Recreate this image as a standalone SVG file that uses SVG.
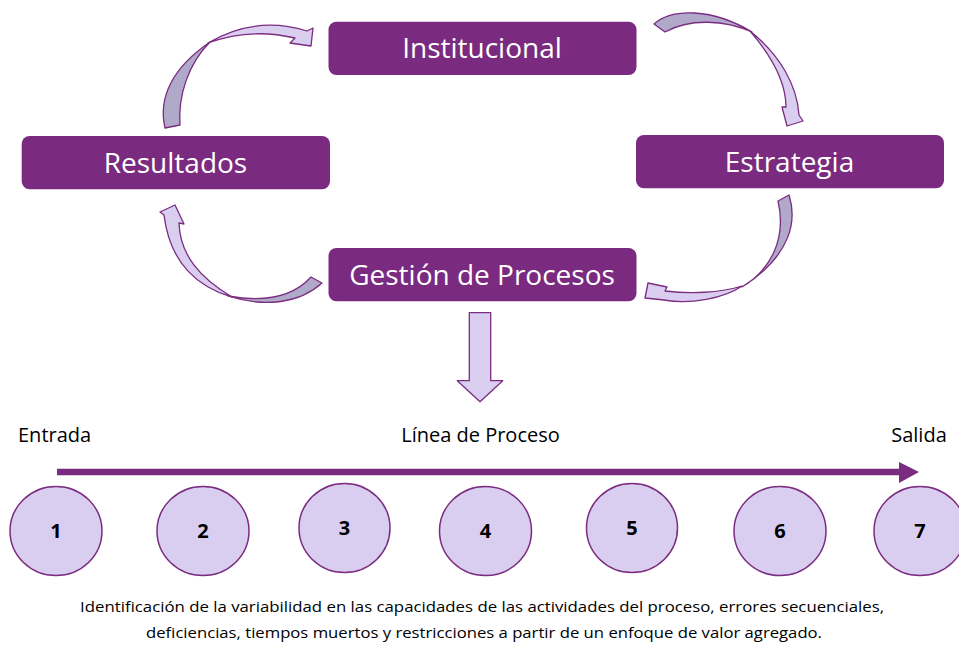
<svg xmlns="http://www.w3.org/2000/svg" width="959" height="648" viewBox="0 0 959 648">
<style>
.box{fill:#7A2A7F;}
.bt{font-family:"Open Sans","Liberation Sans",sans-serif;font-size:28px;fill:#ffffff;text-anchor:middle;}
.lbl{font-family:"Open Sans","Liberation Sans",sans-serif;font-size:20px;fill:#000000;}
.num{font-family:"Open Sans","Liberation Sans",sans-serif;font-size:20px;font-weight:bold;fill:#000000;text-anchor:middle;}
.circ{fill:#D9CEF0;stroke:#7B2C80;stroke-width:1.5;}
.lav{fill:#D9CEF0;stroke:#7B2C80;stroke-width:1.3;stroke-linejoin:round;}
.gry{fill:#B1A9C9;stroke:#7B2C80;stroke-width:1.3;stroke-linejoin:round;}
.note{font-family:"Open Sans","Liberation Sans",sans-serif;font-size:15px;fill:#000000;text-anchor:middle;}
</style>
<rect width="959" height="648" fill="#ffffff"/>
<g id="connectors">
  <g id="arrow-resultados-institucional">
    <path class="gry" d="M165,128 C158,98 172,68 210,42 C188,64 178,96 180,125 Z"/>
    <path class="lav" d="M208,43 C235,27 268,19 307,31 L313,28 L311,46 L290,43 L295,38 C265,31 235,33 208,43 Z"/>
  </g>
  <g id="arrow-institucional-estrategia">
    <path class="gry" d="M654,24 C672,8 712,8 752,32 C725,20 690,18 665,32 Z"/>
    <path class="lav" d="M750,31 C780,55 797,85 799,115 L803,121 L787,126 L782,107 L786,107 C786,85 775,60 750,31 Z"/>
  </g>
  <g id="arrow-estrategia-gestion">
    <path class="gry" d="M778,201 L789,195 C797,220 792,255 742,287 C770,270 787,240 778,201 Z"/>
    <path class="lav" d="M742,286 C725,298 690,305 664,300 L645,298 L648,283 L667,287 L665,291 C690,294 720,293 742,286 Z"/>
  </g>
  <g id="arrow-gestion-resultados">
    <path class="gry" d="M311,277 L322,283 C300,303 265,308 228,296 C262,302 292,298 311,277 Z"/>
    <path class="lav" d="M232,297 C200,288 170,265 164,215 L160,212 L175,205 L184,224 L179,223 C180,255 200,278 232,297 Z"/>
  </g>
  <g id="arrow-down">
    <polygon class="lav" points="469.3,312.7 490.7,312.7 490.7,380.7 502.7,380.7 480,401.7 457.3,380.7 469.3,380.7"/>
  </g>
  <g id="process-line">
    <line x1="57" y1="472" x2="901" y2="472" stroke="#7B2C80" stroke-width="6.5"/>
    <polygon points="899,462 919,472 899,483" fill="#7B2C80"/>
  </g>
</g>
<g id="institucional">
  <rect class="box" x="328.5" y="21.7" width="308" height="53.3" rx="8"/>
  <text class="bt" x="482" y="58">Institucional</text>
</g>
<g id="resultados">
  <rect class="box" x="21.7" y="136" width="308.3" height="53.3" rx="8"/>
  <text class="bt" x="175.5" y="172.5">Resultados</text>
</g>
<g id="estrategia">
  <rect class="box" x="636" y="135" width="308" height="53.3" rx="8"/>
  <text class="bt" x="789.5" y="171.5">Estrategia</text>
</g>
<g id="gestion">
  <rect class="box" x="328.5" y="248" width="308" height="53.3" rx="8"/>
  <text class="bt" x="482" y="284.5">Gestión de Procesos</text>
</g>
<g id="labels">
  <text class="lbl" x="18" y="442">Entrada</text>
  <text class="lbl" x="480.5" y="442" text-anchor="middle">Línea de Proceso</text>
  <text class="lbl" x="919" y="442" text-anchor="middle">Salida</text>
</g>
<g id="step1"><ellipse class="circ" cx="56" cy="531" rx="46" ry="44.5"/><text class="num" x="56" y="538">1</text></g>
<g id="step2"><ellipse class="circ" cx="203" cy="531" rx="46" ry="44.5"/><text class="num" x="203" y="538">2</text></g>
<g id="step3"><ellipse class="circ" cx="344.5" cy="528" rx="45.5" ry="44.5"/><text class="num" x="344.5" y="535">3</text></g>
<g id="step4"><ellipse class="circ" cx="485.5" cy="531" rx="46" ry="44.5"/><text class="num" x="485.5" y="538">4</text></g>
<g id="step5"><ellipse class="circ" cx="632" cy="528" rx="45.5" ry="44.5"/><text class="num" x="632" y="535">5</text></g>
<g id="step6"><ellipse class="circ" cx="780" cy="531" rx="46" ry="44.5"/><text class="num" x="780" y="538">6</text></g>
<g id="step7"><ellipse class="circ" cx="920" cy="531" rx="46" ry="44.5"/><text class="num" x="920" y="538">7</text></g>
<g id="description">
  <text class="note" x="482" y="612" textLength="804" lengthAdjust="spacingAndGlyphs">Identificación de la variabilidad en las capacidades de las actividades del proceso, errores secuenciales,</text>
  <text class="note" x="484" y="638" textLength="676" lengthAdjust="spacingAndGlyphs">deficiencias, tiempos muertos y restricciones a partir de un enfoque de valor agregado.</text>
</g>
</svg>
